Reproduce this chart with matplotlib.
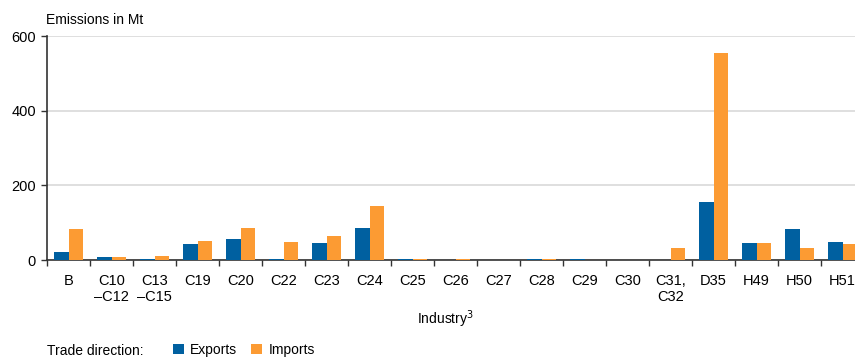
import matplotlib
matplotlib.use("Agg")
import matplotlib.pyplot as plt
import numpy as np
from matplotlib.patches import Patch

plt.rcParams['font.family'] = ['Liberation Sans', 'DejaVu Sans']

categories = ["B", "C10\n–C12", "C13\n–C15", "C19", "C20", "C22", "C23", "C24", "C25",
              "C26", "C27", "C28", "C29", "C30", "C31,\nC32", "D35", "H49", "H50", "H51"]
exports = [22, 8, 3, 42, 57, 2, 45, 85, 3, 0.5, 0.3, 3, 3, 0, 0.3, 155, 45, 82, 49]
imports = [82, 7, 11, 51, 86, 49, 64, 145, 2, 2, 1, 3, 1, 0.5, 31, 555, 45, 31, 42]
yticks = [0, 200, 400, 600]

blue = "#0060a0"
orange = "#fc9b33"

fig = plt.figure(figsize=(8.55, 3.58), dpi=100)
ax = fig.add_axes([47/855, 1-260/358, 817/855, 224/358])

x = np.arange(len(categories))
w = 0.34
ax.bar(x - w/2, exports, w, color=blue, linewidth=0, zorder=3)
ax.bar(x + w/2, imports, w, color=orange, linewidth=0, zorder=3)

ax.set_xlim(-0.5, len(categories) - 0.5)
ax.set_ylim(0, 600)
ax.set_yticks(yticks)
ax.set_yticklabels([str(v) for v in yticks], fontsize=10.5)
ax.yaxis.grid(True, color="#d9d9d9", linewidth=1.2, zorder=0)
ax.set_axisbelow(True)

ax.set_xticks(x)
ax.set_xticklabels(categories, fontsize=10.5, linespacing=1.15)
ax.tick_params(axis='x', length=0, pad=10)
ax.set_xticks(np.arange(len(categories) + 1) - 0.5, minor=True)
ax.tick_params(axis='x', which='minor', length=4, width=1, color="#333333")
ax.tick_params(axis='y', length=4, width=1, color="#333333", pad=4)

for s in ["top", "right"]:
    ax.spines[s].set_visible(False)
ax.spines["left"].set_color("#333333")
ax.spines["bottom"].set_color("#333333")
ax.spines["left"].set_linewidth(1.2)
ax.spines["bottom"].set_linewidth(1.2)

fig.text(46/855, 1-20/358, "Emissions in Mt", fontsize=10, va="center", ha="left")
fig.text(445/855, 1-319/358, "Industry$^3$", fontsize=10, va="center", ha="center")

fig.text(47/855, 1-351/358, "Trade direction:", fontsize=10, va="center", ha="left")
handles = [Patch(facecolor=blue, label="Exports"), Patch(facecolor=orange, label="Imports")]
fig.legend(handles=handles, loc="center left", bbox_to_anchor=(173/855, 1-350/358),
           ncol=2, frameon=False, fontsize=10, handlelength=0.8, handleheight=0.8,
           handletextpad=0.45, columnspacing=1.0, borderaxespad=0, borderpad=0)

fig.savefig("out.png", dpi=100)
